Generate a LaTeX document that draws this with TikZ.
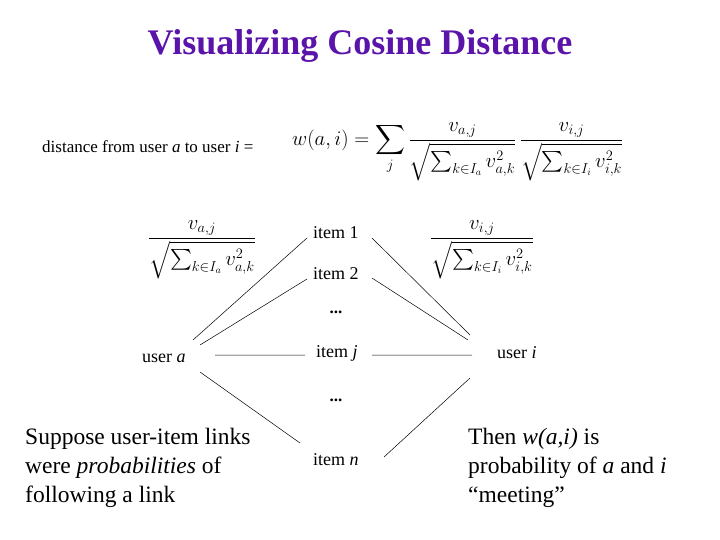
\documentclass[tikz,border=0pt]{standalone}
\usepackage{amsmath}
\usepackage{fontspec}
\setmainfont{Liberation Serif}
\definecolor{ttl}{RGB}{90,20,170}
\begin{document}
\begin{tikzpicture}[x=1pt,y=-1pt,
  lbl/.style={anchor=west,inner sep=0pt,font=\fontsize{18}{18}\selectfont},
  usr/.style={anchor=west,inner sep=0pt,font=\fontsize{18}{18}\selectfont},
  big/.style={anchor=north west,inner sep=0pt,align=left,font=\fontsize{23.5}{29}\selectfont},
  ln/.style={draw=black,line width=0.5pt}]
\useasboundingbox (0,0) rectangle (720,540);
\node[font=\bfseries\fontsize{36}{36}\selectfont,text=ttl] (title) at (360,46) {Visualizing Cosine Distance};
\node[anchor=west,inner sep=0pt,font=\fontsize{17}{17}\selectfont] (dist) at (42,147) {distance from user \textit{a} to user \textit{i} =};
\node[anchor=west,inner sep=0pt,font=\fontsize{20}{24}\selectfont] (formula) at (292,152) {$\displaystyle w(a,i)=\sum_j \frac{v_{a,j}}{\sqrt{\sum_{k\in I_a} v_{a,k}^2}}\,\frac{v_{i,j}}{\sqrt{\sum_{k\in I_i} v_{i,k}^2}}$};
\node[inner sep=0pt,font=\fontsize{20}{24}\selectfont] (fa) at (202,250) {$\displaystyle\frac{v_{a,j}}{\sqrt{\sum_{k\in I_a} v_{a,k}^2}}$};
\node[inner sep=0pt,font=\fontsize{20}{24}\selectfont] (fi) at (482,250) {$\displaystyle\frac{v_{i,j}}{\sqrt{\sum_{k\in I_i} v_{i,k}^2}}$};
\node[lbl] (i1) at (313,233) {item 1};
\node[lbl] (i2) at (313,274) {item 2};
\node[lbl] (ij) at (316,353) {item \textit{j}};
\node[lbl] (in) at (313,460) {item \textit{n}};
\node[font=\bfseries\fontsize{17}{17}\selectfont] (d1) at (336,312) {...};
\node[font=\bfseries\fontsize{17}{17}\selectfont] (d2) at (336,400) {...};
\node[usr] (ua) at (142,358) {user \textit{a}};
\node[usr] (ui) at (497,353) {user \textit{i}};
\node[big] (sl) at (25,428) {Suppose user-item links\\were \textit{probabilities} of\\following a link};
\node[big] (sr) at (468,428) {Then \textit{w(a,i)} is\\probability of \textit{a} and \textit{i}\\“meeting”};
\coordinate (a1) at (193,340); \coordinate (a2) at (200,345);
\coordinate (a3) at (215,355); \coordinate (a4) at (200,372);
\coordinate (b1) at (307,238); \coordinate (b2) at (307,279);
\coordinate (b3) at (305,355); \coordinate (b4) at (300,443);
\coordinate (c1) at (372,238); \coordinate (c2) at (372,278);
\coordinate (c3) at (372,355); \coordinate (c4) at (384,457);
\coordinate (e1) at (470,335); \coordinate (e2) at (468,340);
\coordinate (e3) at (472,355); \coordinate (e4) at (470,378);
\draw[ln] (a1)--(b1) (a2)--(b2) (a3)--(b3) (a4)--(b4);
\draw[ln] (c1)--(e1) (c2)--(e2) (c3)--(e3) (c4)--(e4);
\end{tikzpicture}
\end{document}
